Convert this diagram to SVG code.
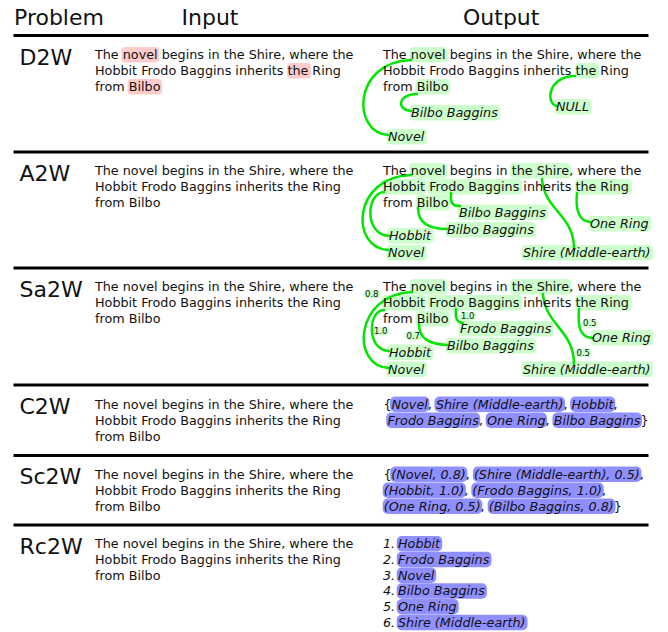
<svg xmlns="http://www.w3.org/2000/svg" width="668" height="632" viewBox="0 0 668 632">
<style>
text { font-family: "DejaVu Sans", "Noto Sans", sans-serif; fill: #111; }
.hd { font-size: 22px; }
.tx { font-size: 12.75px; }
.it { font-size: 12.75px; font-style: italic; }
.sc { font-size: 8.5px; }
.rule { stroke: #000; stroke-width: 3; }
.hg { fill: #ccffcc; }
.hr { fill: #ffcccc; }
.hb { fill: #8f8fff; }
.ln { fill: none; stroke: #00e600; stroke-width: 2.5; stroke-linecap: round; }
</style>
<rect width="668" height="632" fill="#fff"/>

<g id="header">
  <text class="hd" x="14" y="25">Problem</text>
  <text class="hd" x="181.5" y="25">Input</text>
  <text class="hd" x="463" y="25">Output</text>
</g>

<g id="rules">
  <line class="rule" x1="13.5" y1="35.5" x2="648.5" y2="35.5"/>
  <line class="rule" x1="13.5" y1="152" x2="648.5" y2="152"/>
  <line class="rule" x1="13.5" y1="268" x2="648.5" y2="268"/>
  <line class="rule" x1="13.5" y1="385" x2="648.5" y2="385"/>
  <line class="rule" x1="13.5" y1="455.5" x2="648.5" y2="455.5"/>
  <line class="rule" x1="13.5" y1="525" x2="648.5" y2="525"/>
</g>

<!-- highlights -->
<g id="highlights">
  <!-- D2W input -->
  <rect class="hr" x="121.3" y="47" width="37.8" height="15.5" rx="4"/>
  <rect class="hr" x="287.1" y="63" width="23.9" height="15.5" rx="4"/>
  <rect class="hr" x="127.5" y="79" width="34.7" height="15.5" rx="4"/>
  <!-- D2W output -->
  <rect class="hg" x="409.3" y="47" width="37.8" height="15.5" rx="4"/>
  <rect class="hg" x="575.1" y="63" width="23.9" height="15.5" rx="4"/>
  <rect class="hg" x="415.5" y="79" width="34.7" height="15.5" rx="4"/>
  <rect class="hg" x="409.5" y="105" width="90.8" height="15.5" rx="4"/>
  <rect class="hg" x="554.5" y="99" width="37.1" height="15.5" rx="4"/>
  <rect class="hg" x="386.5" y="129" width="40.3" height="15.5" rx="4"/>
  <!-- A2W output -->
  <rect class="hg" x="409.3" y="163" width="37.8" height="15.5" rx="4"/>
  <rect class="hg" x="510.2" y="163" width="60.8" height="15.5" rx="4"/>
  <rect class="hg" x="381.5" y="179" width="45.1" height="15.5" rx="4"/>
  <rect class="hg" x="427.7" y="179" width="94.4" height="15.5" rx="4"/>
  <rect class="hg" x="575.1" y="179" width="56.6" height="15.5" rx="4"/>
  <rect class="hg" x="415.5" y="195" width="34.7" height="15.5" rx="4"/>
  <rect class="hg" x="457.5" y="204.5" width="90.8" height="15.5" rx="4"/>
  <rect class="hg" x="588.5" y="216" width="62.6" height="15.5" rx="4"/>
  <rect class="hg" x="445.5" y="222" width="90.8" height="15.5" rx="4"/>
  <rect class="hg" x="387.5" y="228" width="46.1" height="15.5" rx="4"/>
  <rect class="hg" x="386.5" y="245" width="40.3" height="15.5" rx="4"/>
  <rect class="hg" x="521.5" y="245" width="131.5" height="15.5" rx="4"/>
  <!-- Sa2W output -->
  <rect class="hg" x="409.3" y="279" width="37.8" height="15.5" rx="4"/>
  <rect class="hg" x="510.2" y="279" width="60.8" height="15.5" rx="4"/>
  <rect class="hg" x="381.5" y="295" width="45.1" height="15.5" rx="4"/>
  <rect class="hg" x="427.7" y="295" width="94.4" height="15.5" rx="4"/>
  <rect class="hg" x="575.1" y="295" width="56.6" height="15.5" rx="4"/>
  <rect class="hg" x="415.5" y="311" width="34.7" height="15.5" rx="4"/>
  <rect class="hg" x="458.5" y="321" width="95.4" height="15.5" rx="4"/>
  <rect class="hg" x="590.5" y="330" width="62.6" height="15.5" rx="4"/>
  <rect class="hg" x="445.5" y="338" width="90.8" height="15.5" rx="4"/>
  <rect class="hg" x="387.5" y="344.5" width="46.1" height="15.5" rx="4"/>
  <rect class="hg" x="386.5" y="361.5" width="40.3" height="15.5" rx="4"/>
  <rect class="hg" x="521.5" y="361.5" width="131.5" height="15.5" rx="4"/>
  <!-- C2W output -->
  <rect class="hb" x="390" y="396.5" width="39.5" height="15.5" rx="5"/>
  <rect class="hb" x="434.5" y="396.5" width="130.5" height="15.5" rx="5"/>
  <rect class="hb" x="570.2" y="396.5" width="45" height="15.5" rx="5"/>
  <rect class="hb" x="386.2" y="412.5" width="94" height="15.5" rx="5"/>
  <rect class="hb" x="485.7" y="412.5" width="61.3" height="15.5" rx="5"/>
  <rect class="hb" x="552.4" y="412.5" width="89.5" height="15.5" rx="5"/>
  <!-- Sc2W output -->
  <rect class="hb" x="390.2" y="466.5" width="77.2" height="15.5" rx="5"/>
  <rect class="hb" x="472.9" y="466.5" width="168.5" height="15.5" rx="5"/>
  <rect class="hb" x="382.7" y="482.5" width="83.2" height="15.5" rx="5"/>
  <rect class="hb" x="471.3" y="482.5" width="132.4" height="15.5" rx="5"/>
  <rect class="hb" x="382.7" y="498.5" width="99.6" height="15.5" rx="5"/>
  <rect class="hb" x="487.7" y="498.5" width="127.8" height="15.5" rx="5"/>
  <!-- Rc2W output -->
  <rect class="hb" x="396.7" y="536" width="45.5" height="15.5" rx="5"/>
  <rect class="hb" x="396.7" y="551.75" width="94.8" height="15.5" rx="5"/>
  <rect class="hb" x="396.7" y="567.5" width="39.5" height="15.5" rx="5"/>
  <rect class="hb" x="396.7" y="583.25" width="90.2" height="15.5" rx="5"/>
  <rect class="hb" x="396.7" y="599" width="62" height="15.5" rx="5"/>
  <rect class="hb" x="396.7" y="614.75" width="130.8" height="15.5" rx="5"/>
  <!-- Sa2W scores -->
  <rect class="hg" x="363.5" y="290" width="16.5" height="8.5" rx="3"/>
  <rect class="hg" x="459.5" y="312" width="16.5" height="8.5" rx="3"/>
  <rect class="hg" x="372.5" y="327" width="16.5" height="8.5" rx="3"/>
  <rect class="hg" x="405" y="331.5" width="16.5" height="8.5" rx="3"/>
  <rect class="hg" x="581.5" y="319" width="16.5" height="8.5" rx="3"/>
  <rect class="hg" x="575" y="348.5" width="16.5" height="8.5" rx="3"/>
</g>

<g id="connectors">
  <!-- D2W -->
  <path class="ln" d="M 411,60 C 352,62 352,133 388,135"/>
  <path class="ln" d="M 417,94 C 398,94 396,110 411,111"/>
  <path class="ln" d="M 575,76 C 548,76 545,104 557,106"/>
  <!-- A2W -->
  <path class="ln" d="M 411,175 C 352,177 350,248 388,250"/>
  <path class="ln" d="M 384,192 C 366,193 364,235 389,236"/>
  <path class="ln" d="M 451,193 C 450,204 453,206 460,206"/>
  <path class="ln" d="M 418,208 C 418,222 428,229 447,229"/>
  <path class="ln" d="M 542,179 C 544,210 574,215 574,248"/>
  <path class="ln" d="M 577,193 C 575,212 580,221 590,222"/>
  <!-- Sa2W -->
  <path class="ln" d="M 412,292 C 355,294 350,366 389,368"/>
  <path class="ln" d="M 384,310 C 368,310 366,350 389,351"/>
  <path class="ln" d="M 456,309 C 455,319 457,322 463,323"/>
  <path class="ln" d="M 419,324 C 419,338 428,344 447,345"/>
  <path class="ln" d="M 543,294 C 545,325 574,330 574,364"/>
  <path class="ln" d="M 579,309 C 577,330 582,337 592,338"/>
</g>

<g id="row-d2w">
  <text class="hd" x="19.5" y="65">D2W</text>
  <text class="tx" x="95" y="59">The novel begins in the Shire, where the<tspan x="95" dy="16">Hobbit Frodo Baggins inherits the Ring</tspan><tspan x="95" dy="16">from Bilbo</tspan></text>
  <text class="tx" x="383" y="59">The novel begins in the Shire, where the<tspan x="383" dy="16">Hobbit Frodo Baggins inherits the Ring</tspan><tspan x="383" dy="16">from Bilbo</tspan></text>
  <g id="d2w-bilbo-baggins"><text class="it" x="411" y="117">Bilbo Baggins</text></g>
  <g id="d2w-null"><text class="it" x="556" y="111">NULL</text></g>
  <g id="d2w-novel"><text class="it" x="388" y="141">Novel</text></g>
</g>

<g id="row-a2w">
  <text class="hd" x="19.5" y="181">A2W</text>
  <text class="tx" x="95" y="175">The novel begins in the Shire, where the<tspan x="95" dy="16">Hobbit Frodo Baggins inherits the Ring</tspan><tspan x="95" dy="16">from Bilbo</tspan></text>
  <text class="tx" x="383" y="175">The novel begins in the Shire, where the<tspan x="383" dy="16">Hobbit Frodo Baggins inherits the Ring</tspan><tspan x="383" dy="16">from Bilbo</tspan></text>
  <g id="a2w-bilbo-baggins-1"><text class="it" x="459" y="216.5">Bilbo Baggins</text></g>
  <g id="a2w-one-ring"><text class="it" x="590" y="228">One Ring</text></g>
  <g id="a2w-bilbo-baggins-2"><text class="it" x="447" y="234">Bilbo Baggins</text></g>
  <g id="a2w-hobbit"><text class="it" x="389" y="240">Hobbit</text></g>
  <g id="a2w-novel"><text class="it" x="388" y="257">Novel</text></g>
  <g id="a2w-shire"><text class="it" x="523" y="257">Shire (Middle-earth)</text></g>
</g>

<g id="row-sa2w">
  <text class="hd" x="19.5" y="297">Sa2W</text>
  <text class="tx" x="95" y="291">The novel begins in the Shire, where the<tspan x="95" dy="16">Hobbit Frodo Baggins inherits the Ring</tspan><tspan x="95" dy="16">from Bilbo</tspan></text>
  <text class="tx" x="383" y="291">The novel begins in the Shire, where the<tspan x="383" dy="16">Hobbit Frodo Baggins inherits the Ring</tspan><tspan x="383" dy="16">from Bilbo</tspan></text>
  <g id="sa2w-frodo-baggins"><text class="it" x="460" y="333">Frodo Baggins</text></g>
  <g id="sa2w-one-ring"><text class="it" x="592" y="342">One Ring</text></g>
  <g id="sa2w-bilbo-baggins"><text class="it" x="447" y="350">Bilbo Baggins</text></g>
  <g id="sa2w-hobbit"><text class="it" x="389" y="356.5">Hobbit</text></g>
  <g id="sa2w-novel"><text class="it" x="388" y="373.5">Novel</text></g>
  <g id="sa2w-shire"><text class="it" x="523" y="373.5">Shire (Middle-earth)</text></g>
  <g id="sa2w-scores">
    <text class="sc" x="365" y="297">0.8</text>
    <text class="sc" x="461" y="319">1.0</text>
    <text class="sc" x="374" y="334">1.0</text>
    <text class="sc" x="406.5" y="338.5">0.7</text>
    <text class="sc" x="583" y="326">0.5</text>
    <text class="sc" x="576.5" y="355.5">0.5</text>
  </g>
</g>

<g id="row-c2w">
  <text class="hd" x="19.5" y="413.5">C2W</text>
  <text class="tx" x="95" y="408.5">The novel begins in the Shire, where the<tspan x="95" dy="16">Hobbit Frodo Baggins inherits the Ring</tspan><tspan x="95" dy="16">from Bilbo</tspan></text>
  <text class="tx" x="383.5" y="408.5">{</text>
  <text class="it" x="391.5" y="408.5">Novel</text>
  <text class="tx" x="427.8" y="408.5">,</text>
  <text class="it" x="435.9" y="408.5">Shire (Middle-earth)</text>
  <text class="tx" x="563.4" y="408.5">,</text>
  <text class="it" x="571.5" y="408.5">Hobbit</text>
  <text class="tx" x="613.6" y="408.5">,</text>
  <text class="it" x="387.5" y="424.5">Frodo Baggins</text>
  <text class="tx" x="478.9" y="424.5">,</text>
  <text class="it" x="487" y="424.5">One Ring</text>
  <text class="tx" x="545.6" y="424.5">,</text>
  <text class="it" x="553.7" y="424.5">Bilbo Baggins</text>
  <text class="tx" x="640.5" y="424.5">}</text>
</g>

<g id="row-sc2w">
  <text class="hd" x="19.5" y="484">Sc2W</text>
  <text class="tx" x="95" y="478.5">The novel begins in the Shire, where the<tspan x="95" dy="16">Hobbit Frodo Baggins inherits the Ring</tspan><tspan x="95" dy="16">from Bilbo</tspan></text>
  <text class="tx" x="383.5" y="478.5">{</text>
  <text class="it" x="391.2" y="478.5">(Novel, 0.8)</text>
  <text class="tx" x="465.8" y="478.5">,</text>
  <text class="it" x="473.9" y="478.5">(Shire (Middle-earth), 0.5)</text>
  <text class="tx" x="639.7" y="478.5">,</text>
  <text class="it" x="383.7" y="494.5">(Hobbit, 1.0)</text>
  <text class="tx" x="464.2" y="494.5">,</text>
  <text class="it" x="472.3" y="494.5">(Frodo Baggins, 1.0)</text>
  <text class="tx" x="602" y="494.5">,</text>
  <text class="it" x="383.7" y="510.5">(One Ring, 0.5)</text>
  <text class="tx" x="480.6" y="510.5">,</text>
  <text class="it" x="488.7" y="510.5">(Bilbo Baggins, 0.8)</text>
  <text class="tx" x="613.8" y="510.5">}</text>
</g>

<g id="row-rc2w">
  <text class="hd" x="19.5" y="554">Rc2W</text>
  <text class="tx" x="95" y="548">The novel begins in the Shire, where the<tspan x="95" dy="16">Hobbit Frodo Baggins inherits the Ring</tspan><tspan x="95" dy="16">from Bilbo</tspan></text>
  <text class="it" x="383" y="548">1.</text>
  <text class="it" x="398" y="548">Hobbit</text>
  <text class="it" x="383" y="563.75">2.</text>
  <text class="it" x="398" y="563.75">Frodo Baggins</text>
  <text class="it" x="383" y="579.5">3.</text>
  <text class="it" x="398" y="579.5">Novel</text>
  <text class="it" x="383" y="595.25">4.</text>
  <text class="it" x="398" y="595.25">Bilbo Baggins</text>
  <text class="it" x="383" y="611">5.</text>
  <text class="it" x="398" y="611">One Ring</text>
  <text class="it" x="383" y="626.75">6.</text>
  <text class="it" x="398" y="626.75">Shire (Middle-earth)</text>
</g>
</svg>
